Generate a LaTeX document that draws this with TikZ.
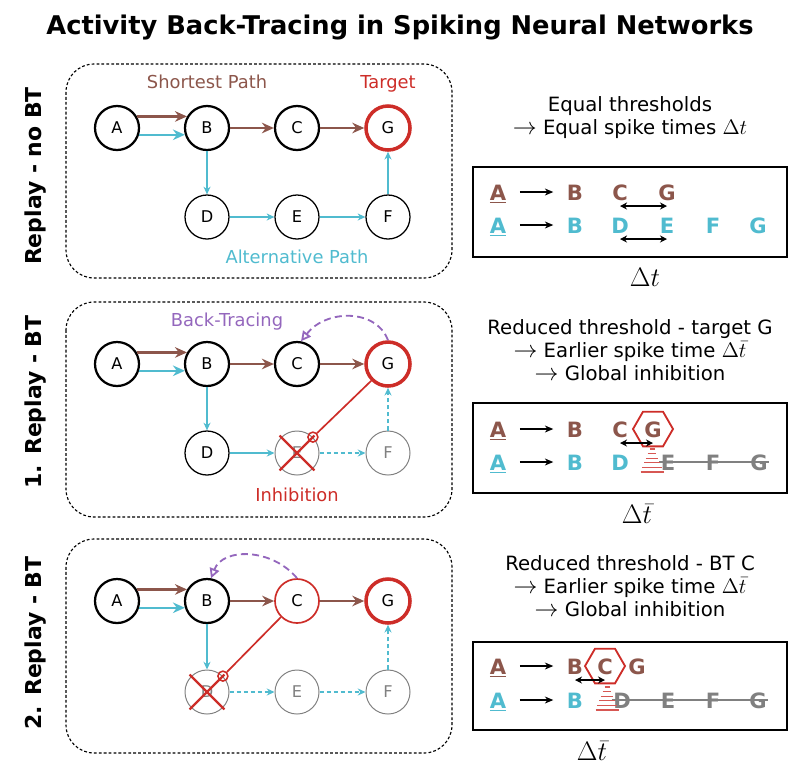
\RequirePackage{fix-cm}
\documentclass[tikz,border=0pt]{standalone}
\usepackage[no-math]{fontspec}
\setmainfont{DejaVu Sans}
\usetikzlibrary{arrows.meta,shapes.geometric}
\definecolor{spbrown}{RGB}{140,86,75}
\definecolor{spcyan}{RGB}{80,187,207}
\definecolor{spred}{RGB}{205,45,40}
\definecolor{sppurple}{RGB}{148,103,189}
\definecolor{spgrey}{RGB}{128,128,128}
\newcommand{\thenarrow}{{\fontsize{17}{17}\selectfont$\rightarrow$}}
\newcommand{\notemath}[1]{{\fontsize{15}{15}\selectfont$#1$}}

\begin{document}
\begin{tikzpicture}[x=0.025cm,y=-0.025cm,
  neuron/.style={circle,draw,line width=1.6pt,minimum size=1.1cm,inner sep=0pt,
                 font=\fontsize{11.5}{13}\selectfont},
  quiet/.style={neuron,line width=0.9pt},
  goal/.style={neuron,draw=spred,line width=2.5pt},
  fired/.style={neuron,draw=spred,line width=1.2pt},
  silent/.style={neuron,draw=spgrey,line width=0.7pt,text=spgrey},
  spath/.style={-{Stealth[length=8.5pt,width=7.5pt]},line width=1.7pt,spbrown},
  apath/.style={spath,spcyan},
  alink/.style={-{Stealth[length=5.5pt,width=5pt]},line width=0.9pt,spcyan},
  alinkd/.style={alink,dash pattern=on 3pt off 2pt},
  btrace/.style={-{Triangle[open,length=7pt,width=7pt]},line width=1.3pt,sppurple,
                 dash pattern=on 5pt off 3pt},
  inhib/.style={spred,line width=1.2pt},
  ring/.style={circle,draw=spred,line width=1.1pt,minimum size=0.25cm,inner sep=0pt},
  cross/.style={spred,line width=1.6pt,shorten <=-1.5pt,shorten >=-1.5pt},
  panel/.style={draw,line width=0.8pt,dash pattern=on 2pt off 1.5pt,rounded corners=0.7cm},
  lbl/.style={anchor=base,font=\fontsize{12.7}{15}\selectfont},
  rowlbl/.style={rotate=90,anchor=base,font=\bfseries\fontsize{15.6}{18}\selectfont},
  note/.style={anchor=north,align=center,inner sep=0pt,font=\fontsize{14}{16.6}\selectfont},
  seqbox/.style={draw,line width=0.9pt},
  spk/.style={font=\bfseries\fontsize{15}{18}\selectfont,inner sep=1pt,
              text height=0.4cm,text depth=0pt},
  fire/.style={-{Stealth[length=6pt,width=5pt]},line width=0.8pt,
               shorten <=0.3cm,shorten >=0.3cm},
  gap/.style={{Stealth[length=5pt,width=5pt]}-{Stealth[length=5pt,width=5pt]},line width=0.8pt},
  hexa/.style={regular polygon,regular polygon sides=6,draw=spred,line width=1.3pt,
               minimum size=1cm},
  strike/.style={spgrey,line width=1pt},
  stripe/.style={spred!80,line width=0.8pt},
  dt/.style={font=\fontsize{19}{22}\selectfont}
]
  \useasboundingbox (0,0) rectangle (800,779);

  \node[anchor=base,font=\bfseries\fontsize{18.3}{21}\selectfont] (title) at (400,34)
        {Activity Back-Tracing in Spiking Neural Networks};
  \node[rowlbl] (row1) at (41,176) {Replay - no BT};
  \node[rowlbl] (row2) at (41,402) {1. Replay - BT};
  \node[rowlbl] (row3) at (41,643) {2. Replay - BT};

  % replay without back-tracing
  \draw[panel] (66,64) rectangle (452,278);
  \node[neuron] (a1) at (117,128) {A};
  \node[neuron] (b1) at (207,128) {B};
  \node[neuron] (c1) at (297,128) {C};
  \node[goal]   (g1) at (388,128) {G};
  \node[quiet]  (d1) at (207,217) {D};
  \node[quiet]  (e1) at (297,217) {E};
  \node[quiet]  (f1) at (388,217) {F};
  \node[lbl,text=spbrown] (sp1) at (207,88) {Shortest Path};
  \node[lbl,text=spred]   (tg1) at (388,88) {Target};
  \node[lbl,text=spcyan]  (ap1) at (297,263) {Alternative Path};
  \draw[spath] (a1.30) -- (b1.150);
  \draw[apath] (a1.-17) -- (b1.197);
  \draw[spath] (b1) -- (c1);
  \draw[spath] (c1) -- (g1);
  \draw[alink] (b1) -- (d1);
  \draw[alink] (d1) -- (e1);
  \draw[alink] (e1) -- (f1);
  \draw[alink] (f1) -- (g1);

  % first back-tracing step
  \draw[panel] (66,302) rectangle (452,517);
  \node[neuron] (a2) at (117,364) {A};
  \node[neuron] (b2) at (207,364) {B};
  \node[neuron] (c2) at (297,364) {C};
  \node[goal]   (g2) at (388,364) {G};
  \node[quiet]  (d2) at (207,453) {D};
  \node[silent] (e2) at (297,453) {E};
  \node[silent] (f2) at (388,453) {F};
  \node[lbl,text=sppurple] (bt2) at (227,326) {Back-Tracing};
  \node[lbl,text=spred]    (ih2) at (297,501) {Inhibition};
  \draw[spath] (a2.30) -- (b2.150);
  \draw[apath] (a2.-17) -- (b2.197);
  \draw[spath] (b2) -- (c2);
  \draw[spath] (c2) -- (g2);
  \draw[alink] (b2) -- (d2);
  \draw[alink] (d2) -- (e2);
  \draw[alinkd] (e2) -- (f2);
  \draw[alinkd] (f2) -- (g2);
  \draw[btrace] (g2.north) .. controls +(-12,-32) and +(25,-32) .. (c2.80);
  \draw[cross] (e2.135) -- (e2.-45);
  \draw[cross] (e2.-135) -- (e2.45);
  \node[ring] (r2) at (e2.45) {};
  \draw[inhib] (g2.225) -- (r2);

  % second back-tracing step
  \draw[panel] (66,539) rectangle (452,753);
  \node[neuron] (a3) at (117,601) {A};
  \node[neuron] (b3) at (207,601) {B};
  \node[fired]  (c3) at (297,601) {C};
  \node[goal]   (g3) at (388,601) {G};
  \node[silent] (d3) at (207,692) {D};
  \node[silent] (e3) at (297,692) {E};
  \node[silent] (f3) at (388,692) {F};
  \draw[spath] (a3.30) -- (b3.150);
  \draw[apath] (a3.-17) -- (b3.197);
  \draw[spath] (b3) -- (c3);
  \draw[spath] (c3) -- (g3);
  \draw[alink] (b3) -- (d3);
  \draw[alinkd] (d3) -- (e3);
  \draw[alinkd] (e3) -- (f3);
  \draw[alinkd] (f3) -- (g3);
  \draw[btrace] (c3.north) .. controls +(-25,-30) and +(12,-31) .. (b3.80);
  \draw[cross] (d3.135) -- (d3.-45);
  \draw[cross] (d3.-135) -- (d3.45);
  \node[ring] (r3) at (d3.45) {};
  \draw[inhib] (c3.225) -- (r3);

  % spike sequences
  \node[note] (n1) at (630,96) {Equal thresholds\\\thenarrow{} Equal spike times \notemath{\Delta t}};
  \draw[seqbox] (473,167) rectangle (787,257);
  \node[spk,text=spbrown] (sa1) at (498,192) {\underline{A}};
  \node[spk,text=spbrown] (sb1) at (575,192) {B};
  \node[spk,text=spbrown] (sc1) at (620,192) {C};
  \node[spk,text=spbrown] (sg1) at (667,192) {G};
  \node[spk,text=spcyan]  (ca1) at (498,225) {\underline{A}};
  \node[spk,text=spcyan]  (cb1) at (575,225) {B};
  \node[spk,text=spcyan]  (cd1) at (620,225) {D};
  \node[spk,text=spcyan]  (ce1) at (667,225) {E};
  \node[spk,text=spcyan]  (cf1) at (713,225) {F};
  \node[spk,text=spcyan]  (cg1) at (758,225) {G};
  \draw[fire] (sa1) -- (sb1);
  \draw[fire] (ca1) -- (cb1);
  \draw[gap] ([yshift=-0.35cm]sc1.center) -- ([yshift=-0.35cm]sg1.center);
  \draw[gap] ([yshift=-0.35cm]cd1.center) -- ([yshift=-0.35cm]ce1.center);
  \node[dt] (dt1) at (645,277) {$\Delta t$};

  \node[note] (n2) at (630,319) {Reduced threshold - target G\\\thenarrow{} Earlier spike time \notemath{\Delta\bar{t}}\\\thenarrow{} Global inhibition};
  \draw[seqbox] (473,403) rectangle (787,493);
  \node[spk,text=spbrown] (sa2) at (498,429) {\underline{A}};
  \node[spk,text=spbrown] (sb2) at (575,429) {B};
  \node[spk,text=spbrown] (sc2) at (620,429) {C};
  \node[spk,text=spbrown,hexa] (sg2) at (653,429) {G};
  \node[spk,text=spcyan]  (ca2) at (498,462) {\underline{A}};
  \node[spk,text=spcyan]  (cb2) at (575,462) {B};
  \node[spk,text=spcyan]  (cd2) at (620,462) {D};
  \node[spk,text=spgrey]  (ce2) at (668,462) {E};
  \node[spk,text=spgrey]  (cf2) at (713,462) {F};
  \node[spk,text=spgrey]  (cg2) at (759,462) {G};
  \draw[fire] (sa2) -- (sb2);
  \draw[fire] (ca2) -- (cb2);
  \draw[gap] ([yshift=-0.35cm]sc2.center) -- ([yshift=-0.35cm]sg2.center);
  \draw[strike] (ce2.west) -- (cg2.east);
  \begin{scope}[shift={(652,449)}]
    \foreach \k in {0,...,5}
      \draw[stripe] (-2.5-1.8*\k,4.6*\k) -- (2.5+1.8*\k,4.6*\k);
  \end{scope}
  \node[dt] (dt2) at (637,514) {$\Delta\bar{t}$};

  \node[note] (n3) at (630,555) {Reduced threshold - BT C\\\thenarrow{} Earlier spike time \notemath{\Delta\bar{t}}\\\thenarrow{} Global inhibition};
  \draw[seqbox] (473,642) rectangle (787,730);
  \node[spk,text=spbrown] (sa3) at (498,666) {\underline{A}};
  \node[spk,text=spbrown] (sb3) at (575,666) {B};
  \node[spk,text=spbrown,hexa] (sc3) at (605,666) {C};
  \node[spk,text=spbrown] (sg3) at (637,666) {G};
  \node[spk,text=spcyan]  (ca3) at (498,700) {\underline{A}};
  \node[spk,text=spcyan]  (cb3) at (575,700) {B};
  \node[spk,text=spgrey]  (cd3) at (622,700) {D};
  \node[spk,text=spgrey]  (ce3) at (668,700) {E};
  \node[spk,text=spgrey]  (cf3) at (713,700) {F};
  \node[spk,text=spgrey]  (cg3) at (758,700) {G};
  \draw[fire] (sa3) -- (sb3);
  \draw[fire] (ca3) -- (cb3);
  \draw[gap] ([yshift=-0.35cm]sb3.center) -- ([yshift=-0.35cm]sc3.center);
  \draw[strike] (cd3.west) -- (cg3.east);
  \begin{scope}[shift={(607,687)}]
    \foreach \k in {0,...,5}
      \draw[stripe] (-2.5-1.8*\k,4.6*\k) -- (2.5+1.8*\k,4.6*\k);
  \end{scope}
  \node[dt] (dt3) at (592,751) {$\Delta\bar{t}$};
\end{tikzpicture}
\end{document}
